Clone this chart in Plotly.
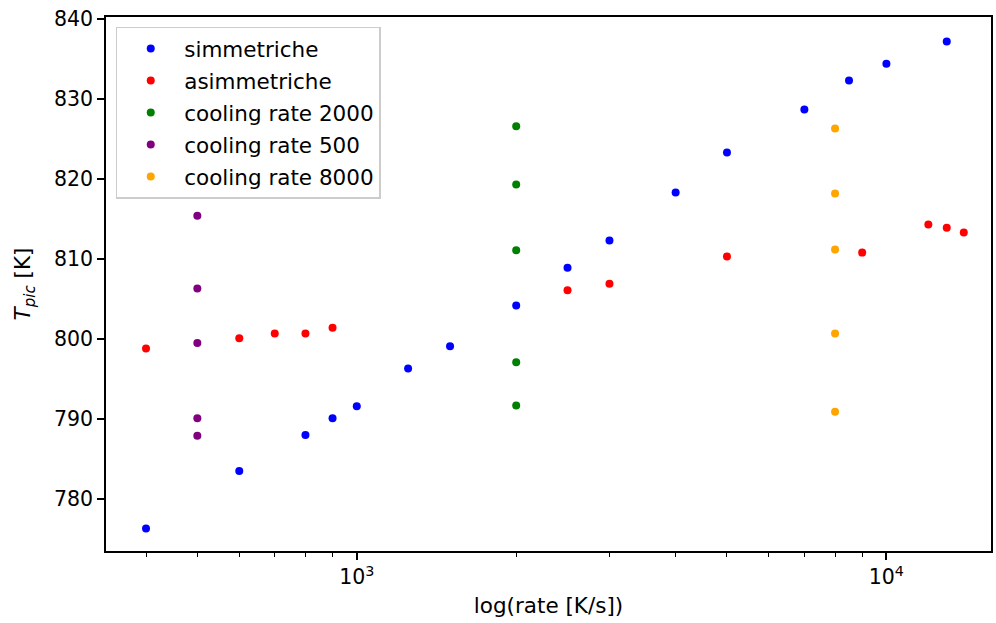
import plotly.graph_objects as go

# data
sim_x = [400, 600, 800, 900, 1000, 1250, 1500, 2000, 2500, 3000, 4000, 5000, 7000, 8500, 10000, 13000]
sim_y = [776.3, 783.5, 788.0, 790.1, 791.6, 796.3, 799.1, 804.2, 808.9, 812.3, 818.3, 823.3, 828.7, 832.3, 834.4, 837.2]

asim_x = [400, 600, 700, 800, 900, 2500, 3000, 5000, 9000, 12000, 13000, 14000]
asim_y = [798.8, 800.1, 800.7, 800.7, 801.4, 806.1, 806.9, 810.3, 810.8, 814.3, 813.9, 813.3]

c2000_x = [2000, 2000, 2000, 2000, 2000]
c2000_y = [826.6, 819.3, 811.1, 797.1, 791.7]

c500_x = [500, 500, 500, 500, 500]
c500_y = [815.4, 806.3, 799.5, 790.1, 787.9]

c8000_x = [8000, 8000, 8000, 8000, 8000]
c8000_y = [826.3, 818.2, 811.2, 800.7, 790.9]

series = [
    ("simmetriche", sim_x, sim_y, "#0000ff"),
    ("asimmetriche", asim_x, asim_y, "#ff0000"),
    ("cooling rate 2000", c2000_x, c2000_y, "#008000"),
    ("cooling rate 500", c500_x, c500_y, "#800080"),
    ("cooling rate 8000", c8000_x, c8000_y, "#ffa500"),
]

x_major = [1000, 10000]
x_major_text = ["10<sup>3</sup>", "10<sup>4</sup>"]
x_minor = [400, 500, 600, 700, 800, 900, 2000, 3000, 4000, 5000, 6000, 7000, 8000, 9000]
y_ticks = [780, 790, 800, 810, 820, 830, 840]

fig = go.Figure()
for i, (name, xs, ys, col) in enumerate(series):
    fig.add_trace(go.Scatter(
        x=xs, y=ys, mode="markers", name=name, legendgroup=f"g{i}",
        marker=dict(color=col, size=8, line=dict(width=0)),
    ))

font = "DejaVu Sans, sans-serif"
fs = 20.5
fl = 21.5
fig.update_layout(
    width=996, height=623,
    margin=dict(l=106, r=3, t=17, b=72),
    paper_bgcolor="white", plot_bgcolor="white",
    font=dict(family=font, size=fs, color="black"),
    showlegend=True,
    legend=dict(
        x=0.011, y=0.982, xanchor="left", yanchor="top",
        bgcolor="rgba(255,255,255,0.8)", bordercolor="#cccccc", borderwidth=1.5,
        font=dict(family=font, size=fl, color="black"),
        tracegroupgap=1, itemsizing="trace", itemwidth=57,
    ),
    xaxis=dict(
        type="log", range=[2.5265, 4.1975],
        tickmode="array", tickvals=x_major, ticktext=x_major_text,
        ticks="outside", ticklen=7, tickwidth=1.6, tickcolor="black",
        showline=True, linecolor="black", linewidth=1.6, mirror=True,
        showgrid=False, zeroline=False,
        tickfont=dict(size=fs),
        minor=dict(tickmode="array", tickvals=x_minor, ticks="outside", ticklen=4,
                   tickwidth=1.2, tickcolor="black", showgrid=False),
        title=dict(text="log(rate [K/s])", font=dict(size=fl), standoff=10),
    ),
    yaxis=dict(
        range=[773.5, 840.25],
        tickmode="array", tickvals=y_ticks,
        ticks="outside", ticklen=7, tickwidth=1.6, tickcolor="black",
        showline=True, linecolor="black", linewidth=1.6, mirror=True,
        showgrid=False, zeroline=False,
        tickfont=dict(size=fs),
        title=dict(text="<i>T</i><sub><i>pic</i></sub> [K]", font=dict(size=fl), standoff=17),
    ),
)

fig.write_html("out.html", config={"displayModeBar": False},
               post_script="document.body.style.margin='0px';")
